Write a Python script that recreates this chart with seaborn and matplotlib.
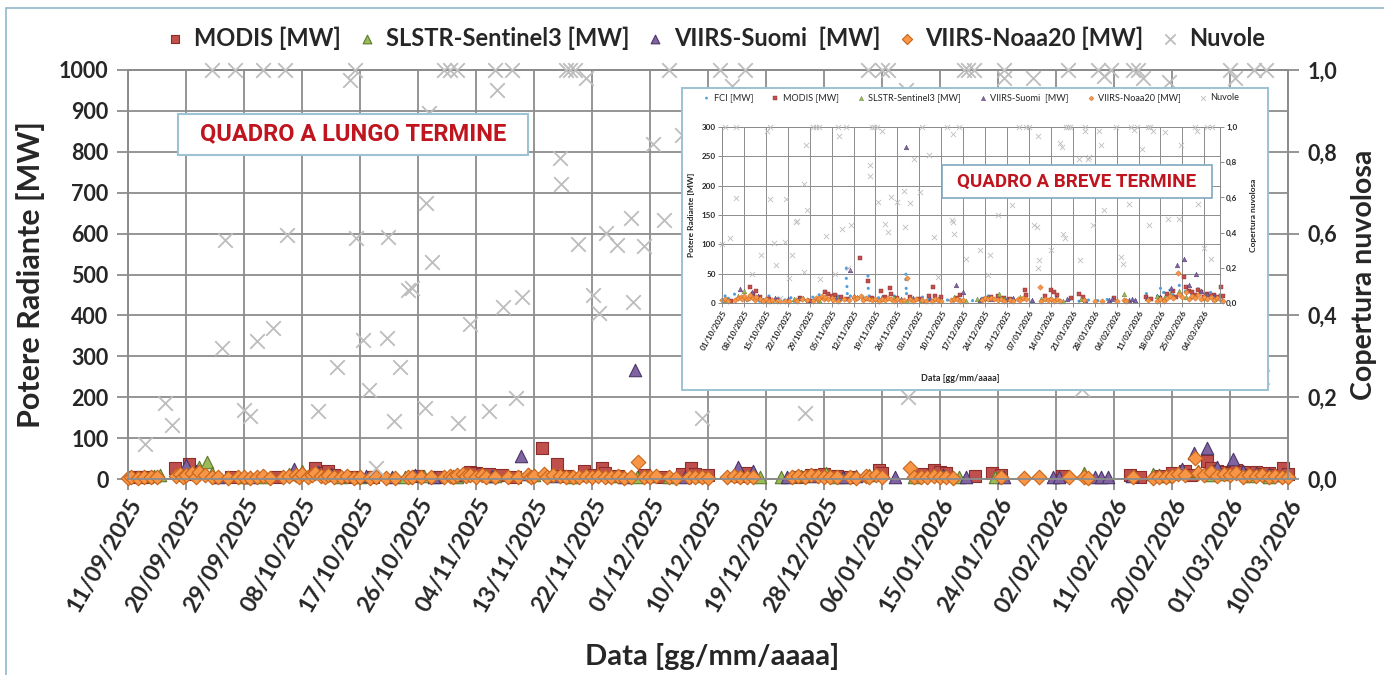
import numpy as np
import pandas as pd
import matplotlib
matplotlib.use('Agg')
import matplotlib.pyplot as plt
import matplotlib.dates as mdates
from matplotlib.ticker import FuncFormatter
from matplotlib.patches import Rectangle
import seaborn as sns

# giorno 0 = 11/09/2025 ; coppie (giorno, valore)
START = pd.Timestamp('2025-09-11')

modis = [(1, 5), (2, 4), (3, 6), (7.3, 26), (9.4, 37), (10, 12), (16, 5), (23, 4), (29, 28), (30, 15),
         (31, 20), (32, 10), (35, 6), (38, 5), (45, 8), (48, 4), (53, 18), (54, 15), (55, 12), (56, 13),
         (58, 10), (60, 6), (64.2, 77), (66.6, 37), (68, 8), (70.8, 20), (72, 10), (73.5, 26), (74, 15), (76, 8),
         (80, 10), (83, 6), (86, 12), (87.4, 27), (88, 12), (90, 10), (95, 8), (96, 14), (104, 6), (106, 10),
         (108, 12), (110, 8), (112, 6), (116.6, 22), (117, 14), (123, 12), (125, 23), (126, 18), (127, 14), (131.5, 8),
         (134, 15), (135.4, 11), (145, 8), (155.5, 10), (157, 6), (160, 8), (162, 15), (164, 20), (165, 10), (167.5, 45),
         (168, 28), (169, 20), (170, 18), (171, 14), (172, 22), (173, 18), (174, 10), (175, 16), (176, 12), (177, 14),
         (178, 10), (179.2, 28), (180, 12)]

slstr = [(4, 8), (5, 10), (11, 30), (12.3, 42), (13, 15), (18, 6), (21, 5), (25, 12), (27, 20), (33, 5),
         (36, 4), (43, 6), (46, 8), (51, 5), (57, 7), (63, 10), (69, 6), (75, 8), (79, 4), (84, 5),
         (89, 7), (94, 10), (98, 4), (101.3, 6), (104.5, 8), (108.3, 15), (110, 6), (115, 10), (122, 6), (129, 4),
         (134.5, 6), (148.4, 15), (159, 12), (161, 8), (163, 15), (166, 20), (168, 10), (170, 12), (174, 8), (177, 6)]

suomi = [(9, 35), (10.5, 20), (14, 6), (19, 5), (25.8, 24), (29.5, 18), (31.5, 12), (34, 7), (37, 8), (41, 6),
         (44.5, 9), (47.5, 5), (52, 10), (56.5, 8), (61, 57), (62, 12), (66, 8), (71, 10), (77, 6), (78.6, 266),
         (81, 8), (86.5, 6), (94.6, 30), (97, 19), (102.3, 5), (106, 7), (111, 6), (113, 8), (119, 5), (126.5, 9),
         (130, 6), (136, 5), (143.5, 5), (144.5, 6), (150, 5), (151, 6), (152, 5), (155.8, 8), (160, 10), (163.5, 25),
         (165.4, 64), (167.5, 75), (169, 30), (171.4, 49), (173, 20), (175, 15), (177, 12), (179, 10)]

noaa20 = [(0, 3), (0.5, 4), (1.5, 3), (2.5, 5), (3.5, 4), (4.5, 6), (7.5, 8), (8, 12), (8.5, 5), (9, 10),
          (10, 15), (10.5, 6), (11, 18), (12, 9), (13, 5), (14, 4), (15.5, 3), (17, 6), (18, 4), (19, 3),
          (20, 5), (21, 7), (22, 3), (24, 5), (25, 8), (26, 10), (26.5, 6), (27, 12), (28, 6), (28.5, 9),
          (29, 14), (30, 8), (30.5, 5), (31, 11), (32, 6), (33, 4), (34, 7), (35, 3), (36, 5), (37.5, 3),
          (38.5, 4), (40, 3), (41.5, 3), (43.5, 5), (44, 4), (45.5, 6), (47, 5), (49, 4), (50, 8), (50.5, 6),
          (51, 9), (52, 12), (52.5, 7), (53, 10), (54, 6), (55, 9), (55.5, 5), (57, 4), (59, 6), (60.5, 5),
          (62, 10), (62.5, 6), (63, 8), (64.5, 12), (65, 5), (66, 9), (67, 7), (68, 5), (69, 6), (70, 4),
          (71, 7), (72, 5), (73, 8), (74, 6), (75, 4), (76, 7), (77, 3), (78, 5), (79.2, 42), (80, 6),
          (81, 4), (82, 7), (84, 5), (85, 3), (87, 4), (88, 6), (89, 5), (90, 3), (93, 5), (94, 7),
          (95, 6), (96, 4), (97, 5), (103, 5), (104, 8), (105, 6), (106, 9), (107, 7), (108, 5), (109, 6),
          (110, 4), (112, 5), (113, 3), (114.5, 7), (115, 5), (116, 9), (117, 6), (121.4, 28), (122, 4), (123, 6),
          (124, 5), (125, 7), (126, 4), (127, 6), (128, 3), (135.5, 5), (139, 3), (141.4, 4), (146, 4), (148.4, 5),
          (149, 3), (156, 5), (159, 3), (160, 6), (161, 4), (162, 8), (163, 12), (164, 9), (165.5, 51), (166, 15),
          (167, 10), (168, 18), (169, 7), (170, 12), (171, 9), (172, 14), (173, 6), (174, 10), (175, 7), (176, 11),
          (177, 5), (178, 8), (179, 6), (180, 4)]

# FCI solo nel quadro a breve termine
fci = [(20, 5), (21, 12), (22, 8), (23, 3), (24, 15), (25, 6), (27, 10), (28, 4), (29, 7), (31, 9),
       (32, 3), (34, 6), (35, 12), (36, 4), (38, 8), (40, 5), (42, 9), (43, 3), (45, 7), (47, 4),
       (49, 10), (50, 6), (51, 14), (52, 8), (53, 20), (54, 6), (55, 10), (57, 12), (58, 5), (59.7, 59),
       (59.7, 42), (59.9, 28), (60, 16), (60.5, 8), (61, 12), (63, 6), (65, 10), (66.6, 46), (66.6, 37), (66.7, 25),
       (67, 12), (68, 6), (70, 9), (71, 4), (73, 7), (75, 12), (76, 5), (78.7, 49), (78.7, 40), (78.8, 25),
       (78.9, 16), (80, 8), (82, 5), (84, 10), (86, 6), (88, 4), (90, 7), (92, 5), (94, 3), (96, 6),
       (100, 4), (103, 8), (105, 12), (107, 6), (109, 9), (111, 5), (113, 7), (115, 4), (117, 6), (119, 3),
       (122, 5), (125, 8), (128, 4), (131, 6), (134, 3), (137, 5), (140, 4), (143, 6), (146, 3), (149, 5),
       (152, 4), (155.5, 16), (157, 8), (159, 12), (160, 25), (161, 18), (162, 10), (163, 22), (164, 14), (166, 30),
       (168, 20), (170, 15), (172, 24), (174, 12), (176, 18), (178, 10), (179, 14)]

# copertura nuvolosa (0-1)
nuvole = [(2.6, 0.085), (5.8, 0.187), (6.8, 0.131), (13, 1.0), (14.6, 0.32), (15, 0.585), (16.6, 1.0), (18, 0.168),
          (19, 0.153), (20, 0.337), (21, 1.0), (22.5, 0.37), (24.4, 1.0), (24.6, 0.597), (29.5, 0.166), (32.5, 0.274),
          (34.5, 0.976), (35.2, 1.0), (35.4, 0.589), (36.5, 0.34), (37.4, 0.218), (38.5, 0.027), (40.2, 0.345),
          (40.4, 0.592), (41.3, 0.142), (42.2, 0.274), (43.5, 0.462), (44.1, 0.467), (46.1, 0.174), (46.3, 0.675),
          (46.7, 0.895), (47.2, 0.53), (49, 1.0), (50, 1.0), (51, 1.0), (51.2, 0.137), (53.1, 0.38), (56, 0.166),
          (57, 1.0), (57.2, 0.951), (58.2, 0.42), (59.6, 1.0), (60.2, 0.198), (61.2, 0.445), (67.1, 0.785),
          (67.2, 0.721), (67.9, 1.0), (68.6, 1.0), (69.4, 1.0), (69.9, 0.575), (71, 0.98), (72.2, 0.45),
          (73.1, 0.406), (74.1, 0.601), (75.9, 0.572), (78.1, 0.638), (78.3, 0.433), (80, 0.57), (81.4, 0.82),
          (83.1, 0.633), (83.9, 1.0), (86, 0.84), (87.6, 0.375), (89, 0.15), (91.8, 1.0), (93.3, 0.47),
          (93.6, 0.46), (93.8, 0.96), (94, 0.39), (95.8, 1.0), (98, 0.25), (100, 0.64), (102.4, 0.30),
          (105, 0.161), (105.6, 0.27), (108, 0.5), (112.5, 0.555), (114.8, 1.0), (117, 1.0), (117.9, 1.0),
          (119.5, 0.445), (120.5, 0.43), (120.8, 0.95), (121, 0.2), (121.3, 0.245), (125, 0.3), (128, 0.91),
          (128.5, 0.885), (129, 0.39), (129.4, 0.37), (129.7, 1.0), (130.4, 1.0), (131.2, 1.0), (134, 0.82),
          (134.3, 0.245), (135.9, 1.0), (136, 0.98), (137, 0.82), (137.3, 0.83), (138.6, 0.445), (140.5, 0.98),
          (141, 0.90), (142, 0.53), (145.8, 1.0), (147, 0.72), (147.3, 0.26), (148, 0.22), (150, 0.56),
          (150.5, 1.0), (151.5, 0.985), (152.5, 1.0), (154, 0.875), (156, 1.0), (156.4, 0.445), (156.8, 1.0),
          (157.5, 0.98), (161.5, 0.97), (162.3, 0.475), (166, 0.475), (166.5, 0.895), (171, 1.0), (171.8, 0.98),
          (172, 0.56), (174, 0.31), (174.7, 1.0), (176, 0.25), (176.6, 1.0)]

main_ticks = pd.date_range('2025-09-11', '2026-03-10', freq='9D')
inset_ticks = pd.date_range('2025-10-01', '2026-03-04', freq='7D')


def split(pts, first_day=0):
    d = np.array([p[0] for p in pts if p[0] >= first_day])
    v = np.array([p[1] for p in pts if p[0] >= first_day])
    return START + pd.to_timedelta(d, unit='D'), v


sns.set_theme(style='white')
plt.rcParams['font.family'] = ['Lato', 'DejaVu Sans']
plt.rcParams['font.weight'] = 'bold'
plt.rcParams['axes.labelweight'] = 'bold'

W, H = 1384, 675


def rect(x0, y0, x1, y1):
    return [x0 / W, 1 - y1 / H, (x1 - x0) / W, (y1 - y0) / H]


GRID = '#8c8c8c'
RED = '#c0141e'
BOXFONT = ['Roboto', 'DejaVu Sans']
series = [
    ('MODIS [MW]', modis, 's', 70, '#c0504d', '#8c2d2a'),
    ('SLSTR-Sentinel3 [MW]', slstr, '^', 80, '#9bbb59', '#5f7a2c'),
    ('VIIRS-Suomi  [MW]', suomi, '^', 80, '#8064a2', '#4b3568'),
    ('VIIRS-Noaa20 [MW]', noaa20, 'D', 55, '#f79646', '#c8641c'),
]
CLOUD = '#bdbdbd'
comma = FuncFormatter(lambda v, _: f'{v:.1f}'.replace('.', ','))

fig = plt.figure(figsize=(13.84, 6.75), dpi=100)
fig.add_artist(Rectangle((6 / W, -0.1), 1.2, 1.1 - 8 / H, transform=fig.transFigure,
                         fill=False, ec='#8fb8cc', lw=1.2))

# ---------------- quadro a lungo termine ----------------
ax = fig.add_axes(rect(128, 70, 1288, 479))
ax2 = ax.twinx()

for name, pts, mk, s, fc, ec in series:
    x, y = split(pts)
    sns.scatterplot(x=x, y=y, ax=ax, marker=mk, s=s, color=fc, edgecolor=ec, linewidth=0.8,
                    label=name, legend=False, clip_on=False, zorder=3)
x, y = split(nuvole)
sns.scatterplot(x=x, y=y, ax=ax2, marker='x', s=110, color=CLOUD, linewidth=1.3,
                label='Nuvole', legend=False, clip_on=False, zorder=3)

ax.set_xlim(pd.Timestamp('2025-09-11'), pd.Timestamp('2026-03-10'))
ax.set_ylim(0, 1000)
ax2.set_ylim(0, 1)
ax.set_xticks(main_ticks)
ax.xaxis.set_major_formatter(mdates.DateFormatter('%d/%m/%Y'))
ax.set_yticks(range(0, 1001, 100))
ax2.set_yticks(np.arange(0, 1.01, 0.2))
ax2.yaxis.set_major_formatter(comma)
ax.set_axisbelow(True)
ax.grid(True, color=GRID, lw=1.3)
for a in (ax, ax2):
    for sp in a.spines.values():
        sp.set_color(GRID)
        sp.set_linewidth(1.3)
ax.tick_params(axis='y', left=True, length=8, width=1.3, color=GRID, labelsize=15.5, pad=6)
ax.tick_params(axis='x', bottom=True, length=8, width=1.3, color=GRID, labelsize=16.5)
ax2.tick_params(axis='y', right=True, length=8, width=1.3, color=GRID, labelsize=15.5, pad=6)
plt.setp(ax.get_xticklabels(), rotation=60, ha='right', rotation_mode='anchor')
ax.set_xlabel('Data [gg/mm/aaaa]', fontsize=21)
ax.set_ylabel('Potere Radiante [MW]', fontsize=22)
ax2.set_ylabel('Copertura nuvolosa', fontsize=20.5)
ax.xaxis.set_label_coords((712 - 128) / 1160, (479 - 643) / 409)
ax.yaxis.set_label_coords((45 - 128) / 1160, 0.5)
ax2.yaxis.set_label_coords((1351 - 128) / 1160, 0.5)

h1, l1 = ax.get_legend_handles_labels()
h2, l2 = ax2.get_legend_handles_labels()
fig.legend(h1 + h2, l1 + l2, loc='center', bbox_to_anchor=(714 / W, 1 - 38 / H), ncol=5,
           frameon=False, prop={'weight': 'bold', 'size': 17}, markerscale=0.7,
           handlelength=1.0, handletextpad=0.3, columnspacing=0.6)

fig.add_artist(Rectangle((178 / W, 1 - 155 / H), 350 / W, 41 / H, transform=fig.transFigure,
                         fc='white', ec='#9cc3d3', lw=1.5, zorder=3))
fig.text(353 / W, 1 - 134 / H, 'QUADRO A LUNGO TERMINE', ha='center', va='center', color=RED,
         fontsize=17, family=BOXFONT, fontweight='bold', zorder=4)

# ---------------- quadro a breve termine (riquadro) ----------------
frame = fig.add_axes(rect(682, 88, 1268, 390))
frame.set_zorder(5)
frame.set_xticks([])
frame.set_yticks([])
frame.set_facecolor('white')
for sp in frame.spines.values():
    sp.set_color('#9cc3d3')
    sp.set_linewidth(1.4)

axi = fig.add_axes(rect(722, 127, 1220, 303))
axi2 = axi.twinx()
axi.set_zorder(6)
axi2.set_zorder(7)
axi2.patch.set_visible(False)

x, y = split(fci, 20)
sns.scatterplot(x=x, y=y, ax=axi, marker='o', s=5, color='#4f9fdc', edgecolor='none',
                label='FCI [MW]', legend=False, clip_on=False, zorder=3)
for name, pts, mk, s, fc, ec in series:
    x, y = split(pts, 20)
    sns.scatterplot(x=x, y=y, ax=axi, marker=mk, s=s / 7, color=fc, edgecolor=ec, linewidth=0.3,
                    label=name, legend=False, clip_on=False, zorder=3)
x, y = split(nuvole, 20)
sns.scatterplot(x=x, y=y, ax=axi2, marker='x', s=14, color=CLOUD, linewidth=0.6,
                label='Nuvole', legend=False, clip_on=False, zorder=3)

axi.set_xlim(pd.Timestamp('2025-10-01'), pd.Timestamp('2026-03-09'))
axi.set_ylim(0, 300)
axi2.set_ylim(0, 1)
axi.set_xticks(inset_ticks)
axi.xaxis.set_major_formatter(mdates.DateFormatter('%d/%m/%Y'))
axi.set_yticks(range(0, 301, 50))
axi2.set_yticks(np.arange(0, 1.01, 0.2))
axi2.yaxis.set_major_formatter(comma)
axi.set_axisbelow(True)
axi.grid(True, color=GRID, lw=0.7)
for a in (axi, axi2):
    for sp in a.spines.values():
        sp.set_color(GRID)
        sp.set_linewidth(0.7)
axi.tick_params(axis='both', left=True, bottom=True, length=3, width=0.7, color=GRID, labelsize=5.8, pad=1.5)
axi2.tick_params(axis='y', right=True, length=3, width=0.7, color=GRID, labelsize=5.8, pad=1.5)
plt.setp(axi.get_xticklabels(), rotation=60, ha='right', rotation_mode='anchor')
axi.set_xlabel('Data [gg/mm/aaaa]', fontsize=6.5)
axi.set_ylabel('Potere Radiante [MW]', fontsize=6)
axi2.set_ylabel('Copertura nuvolosa', fontsize=6)
axi.xaxis.set_label_coords((960 - 722) / 498, (303 - 374) / 176)
axi.yaxis.set_label_coords((695 - 722) / 498, 0.5)
axi2.yaxis.set_label_coords((1250 - 722) / 498, 0.5)

h1, l1 = axi.get_legend_handles_labels()
h2, l2 = axi2.get_legend_handles_labels()
leg = fig.legend(h1 + h2, l1 + l2, loc='center', bbox_to_anchor=(970 / W, 1 - 98 / H), ncol=6,
                 frameon=False, markerscale=0.9, handlelength=1.2, handletextpad=0.2, columnspacing=1.8,
                 prop={'weight': 'normal', 'size': 6.6})
leg.set_zorder(9)

fig.add_artist(Rectangle((942 / W, 1 - 198 / H), 270 / W, 33 / H, transform=fig.transFigure,
                         fc='white', ec='#7ea9bd', lw=1.2, zorder=8))
fig.text(1077 / W, 1 - 181.5 / H, 'QUADRO A BREVE TERMINE', ha='center', va='center', color=RED,
         fontsize=13.5, family=BOXFONT, fontweight='bold', zorder=9)

fig.savefig('out.png', dpi=100, facecolor='white')
